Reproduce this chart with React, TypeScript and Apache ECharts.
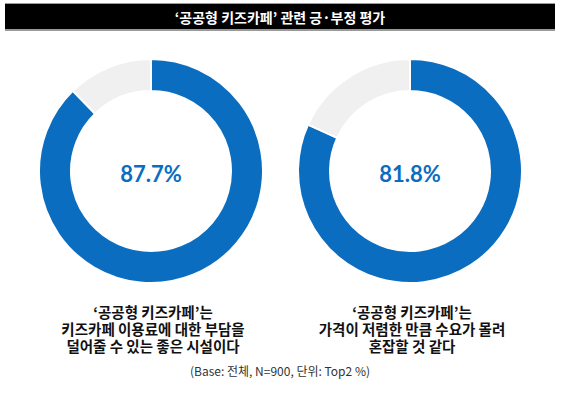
import React, { useEffect, useRef } from "react";
import * as echarts from "echarts";

const title = "‘공공형 키즈카페’ 관련 긍·부정 평가";
const itemNames = ["긍정(Top2)", "기타"];
const valuesA = [87.7, 12.3];
const valuesB = [81.8, 18.2];
const captionA = ["‘공공형 키즈카페’는", "키즈카페 이용료에 대한 부담을", "덜어줄 수 있는 좋은 시설이다"];
const captionB = ["‘공공형 키즈카페’는", "가격이 저렴한 만큼 수요가 몰려", "혼잡할 것 같다"];
const footnote = "(Base: 전체, N=900, 단위: Top2 %)";

const BLUE = "#0b6dbf";
const GREY = "#f0f0f0";
const KR = "'Noto Sans CJK KR', 'Noto Sans', sans-serif";

export default function App() {
  const ref = useRef<HTMLDivElement>(null);
  useEffect(() => {
    document.body.style.margin = "0";
    const chart = echarts.init(ref.current!, null, { renderer: "svg" });
    const pie = (vals: number[], cx: number) => ({
      type: "pie",
      center: [cx, 171],
      radius: [80, 112],
      startAngle: 90,
      clockwise: true,
      silent: true,
      label: { show: false },
      labelLine: { show: false },
      itemStyle: { borderColor: "#ffffff", borderWidth: 2 },
      data: vals.map((v, i) => ({
        name: itemNames[i],
        value: v,
        itemStyle: { color: i === 0 ? BLUE : GREY },
      })),
    });
    const center = (vals: number[], cx: number) => ({
      type: "text",
      x: cx,
      y: 173,
      style: {
        text: vals[0].toFixed(1) + "%",
        fill: BLUE,
        font: "bold 22px Lato, 'Noto Sans', sans-serif",
        align: "center",
        verticalAlign: "middle",
      },
    });
    const caption = (lines: string[], cx: number) =>
      lines.map((line, i) => ({
        type: "text",
        x: cx,
        y: 311 + i * 17,
        style: {
          text: line,
          fill: "#111111",
          font: `bold 14.5px ${KR}`,
          lineHeight: 16,
          align: "center",
          verticalAlign: "middle",
        },
      }));
    chart.setOption({
      animation: false,
      series: [pie(valuesA, 151), pie(valuesB, 410)],
      graphic: [
        { type: "rect", shape: { x: 5, y: 3, width: 550, height: 28 }, style: { fill: "#9a9a9a" } },
        { type: "rect", shape: { x: 5, y: 4, width: 550, height: 25 }, style: { fill: "#000000" } },
        {
          type: "text",
          x: 280,
          y: 17,
          style: { text: title, fill: "#ffffff", font: `bold 14px ${KR}`, align: "center", verticalAlign: "middle" },
        },
        center(valuesA, 151),
        center(valuesB, 410),
        ...caption(captionA, 153),
        ...caption(captionB, 412),
        {
          type: "text",
          x: 280,
          y: 370,
          style: { text: footnote, fill: "#333333", font: `12px ${KR}`, align: "center", verticalAlign: "middle" },
        },
      ],
    });
    return () => chart.dispose();
  }, []);
  return <div ref={ref} style={{ width: 561, height: 393 }} />;
}
